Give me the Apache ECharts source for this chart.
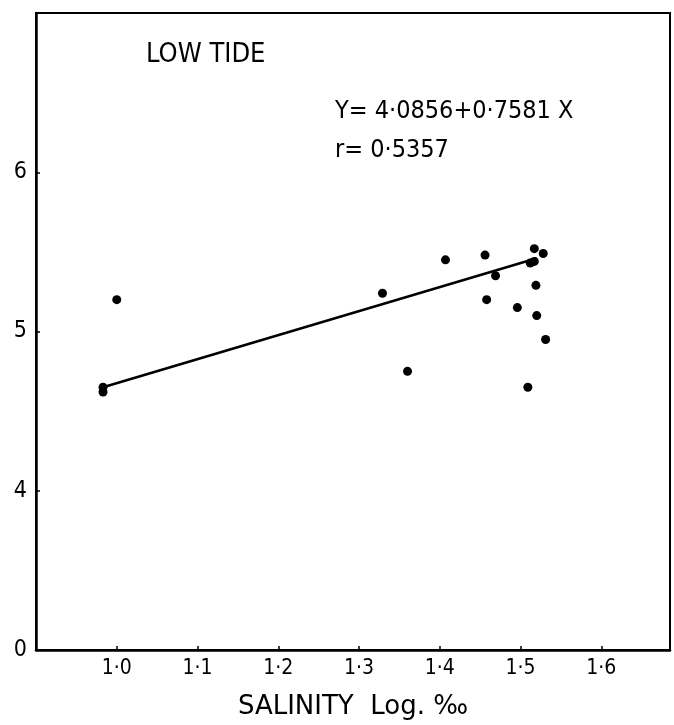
<!DOCTYPE html>
<html>
<head>
<meta charset="utf-8">
<script src="https://cdn.jsdelivr.net/npm/echarts@6/dist/echarts.min.js"></script>
<style>
  html, body { margin: 0; padding: 0; background: #fff; }
  #chart { width: 674px; height: 725px; }
</style>
</head>
<body>
<div id="chart"></div>
<script>
// 散点数据（盐度对数 vs 数值）
const salinityLog = [0.983, 0.983, 1.000, 1.329, 1.360, 1.407, 1.456, 1.458, 1.469, 1.496, 1.509, 1.512, 1.517, 1.517, 1.519, 1.520, 1.528, 1.531];
const tideValue   = [4.65, 4.62, 5.20, 5.24, 4.75, 5.45, 5.48, 5.20, 5.35, 5.15, 4.65, 5.43, 5.44, 5.52, 5.29, 5.10, 5.49, 4.95];
// 回归线两端
const fitX = [0.983, 1.520];
const fitY = [4.65, 5.46];
// 文字
const panelTitle = 'LOW TIDE';
const equationText = 'Y= 4·0856+0·7581 X';
const rText = 'r= 0·5357';
const xName = 'SALINITY  Log. ‰';

const FONT = '"DejaVu Sans Condensed", "DejaVu Sans", sans-serif';

const chart = echarts.init(document.getElementById('chart'));

const option = {
  animation: false,
  backgroundColor: '#fff',
  grid: {
    left: 36, right: 4, top: 13, bottom: 64,
    show: true, borderColor: '#000', borderWidth: 2
  },
  xAxis: {
    type: 'value',
    min: 0.9, max: 1.685, interval: 0.1,
    name: xName,
    nameLocation: 'middle',
    nameGap: 44,
    nameTextStyle: { fontFamily: '"DejaVu Sans", sans-serif', fontSize: 26, color: '#000' },
    axisLine: { lineStyle: { color: '#000', width: 2.5 } },
    axisTick: { inside: true, length: 4, lineStyle: { color: '#000', width: 1.5 } },
    splitLine: { show: false },
    axisLabel: {
      margin: 8, color: '#000', fontFamily: FONT, fontSize: 21,
      formatter: function (v) {
        if (v < 0.95 || v > 1.65) return '';
        return v.toFixed(1).replace('.', '·');
      }
    }
  },
  yAxis: {
    type: 'value',
    min: 3, max: 7, interval: 1,
    axisLine: { show: true, lineStyle: { color: '#000', width: 2.5 } },
    axisTick: { show: true, inside: true, length: 4, lineStyle: { color: '#000', width: 1.5 } },
    splitLine: { show: false },
    axisLabel: {
      margin: 9, color: '#000', fontFamily: FONT, fontSize: 23,
      formatter: function (v) {
        if (v === 3) return '0';   // 断轴：底部记为 0
        if (v >= 7) return '';
        return String(v);
      }
    }
  },
  series: [
    {
      type: 'scatter',
      symbol: 'circle',
      symbolSize: 9,
      itemStyle: { color: '#000', opacity: 1 },
      data: salinityLog.map((x, i) => [x, tideValue[i]])
    },
    {
      type: 'line',
      symbol: 'none',
      lineStyle: { color: '#000', width: 2.5 },
      data: fitX.map((x, i) => [x, fitY[i]])
    }
  ],
  graphic: [
    {
      type: 'text', left: 146, top: 41,
      style: { text: panelTitle, fontFamily: FONT, fontSize: 27, fill: '#000' }
    },
    {
      type: 'text', left: 335, top: 99,
      style: { text: equationText, fontFamily: FONT, fontSize: 25, fill: '#000' }
    },
    {
      type: 'text', left: 335, top: 138,
      style: { text: rText, fontFamily: FONT, fontSize: 25, fill: '#000' }
    }
  ]
};

chart.setOption(option);
</script>
</body>
</html>
